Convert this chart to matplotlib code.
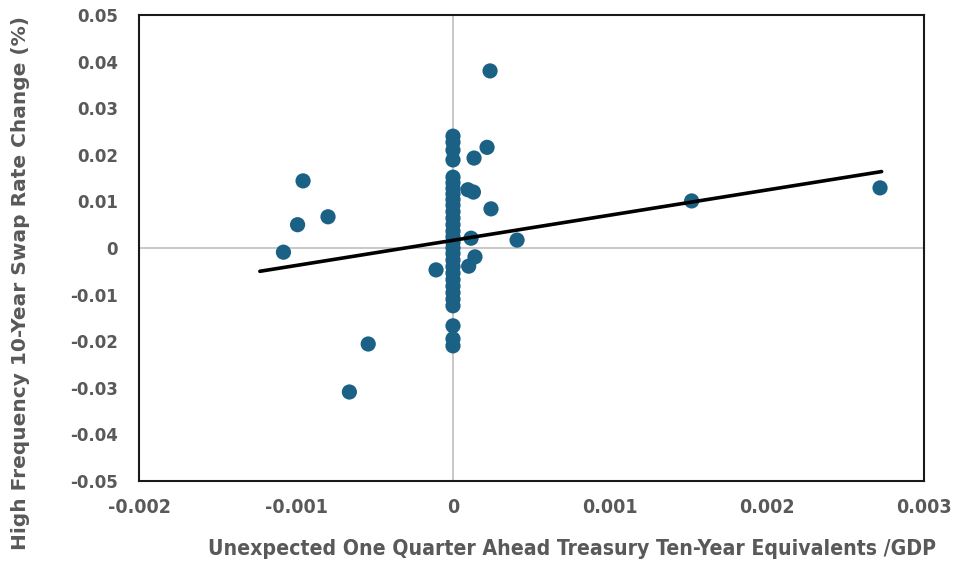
import numpy as np
import matplotlib
matplotlib.use("Agg")
import matplotlib.pyplot as plt

# Scatter data (x: Treasury ten-year equivalents / GDP, y: swap rate change %)
x_outliers = [0.000236, 0.000217, 0.000134, 0.000095, 0.000130, 0.000242, 0.000408,
              0.000115, 0.000140, 0.000100, -0.000108, -0.000955, -0.000990,
              -0.000796, -0.001080, -0.000540, -0.000660, 0.001520, 0.002720]
y_outliers = [0.0380, 0.0216, 0.0193, 0.0125, 0.0120, 0.0084, 0.0017,
              0.0021, -0.0019, -0.0039, -0.0047, 0.0144, 0.0050,
              0.0067, -0.0009, -0.0206, -0.0309, 0.0101, 0.0129]
y_zero_column = [0.0240, 0.0227, 0.0210, 0.0189, 0.0152, 0.0140, 0.0128, 0.0116,
                 0.0104, 0.0092, 0.0078, 0.0064, 0.0050, 0.0036, 0.0024, 0.0012,
                 0.0000, -0.0012, -0.0026, -0.0040, -0.0054, -0.0068, -0.0082,
                 -0.0096, -0.0110, -0.0124, -0.0167, -0.0195, -0.0210]

# Linear trendline
trend_x = [-0.00123, 0.00273]
trend_y = [-0.0050, 0.0164]

x_ticks = [-0.002, -0.001, 0, 0.001, 0.002, 0.003]
x_tick_labels = ["-0.002", "-0.001", "0", "0.001", "0.002", "0.003"]
y_ticks = [0.05, 0.04, 0.03, 0.02, 0.01, 0, -0.01, -0.02, -0.03, -0.04, -0.05]
y_tick_labels = ["0.05", "0.04", "0.03", "0.02", "0.01", "0", "-0.01", "-0.02",
                 "-0.03", "-0.04", "-0.05"]

x_all = np.array(x_outliers + [0.0] * len(y_zero_column))
y_all = np.array(y_outliers + y_zero_column)

fig = plt.figure(figsize=(9.56, 5.69), dpi=100)
ax = fig.add_axes([139/956, 1-481/569, (924-139)/956, (481-15)/569])

ax.axhline(0, color="#BFBFBF", lw=1.2, zorder=1)
ax.axvline(0, color="#BFBFBF", lw=1.2, zorder=1)

ax.scatter(x_all, y_all, s=120, color="#1B6185", edgecolors="none", zorder=3)

ax.plot(trend_x, trend_y, color="black", lw=2.6, zorder=4, solid_capstyle="round")

ax.set_xlim(-0.002, 0.003)
ax.set_ylim(-0.05, 0.05)
ax.set_xticks(x_ticks)
ax.set_xticklabels(x_tick_labels)
ax.set_yticks(y_ticks)
ax.set_yticklabels(y_tick_labels)
ax.tick_params(axis="x", length=0, pad=12)
ax.tick_params(axis="y", length=0, pad=15)
for lab in ax.get_xticklabels():
    lab.set_fontfamily("DejaVu Sans")
    lab.set_fontstretch("condensed")
    lab.set_fontweight("bold")
    lab.set_fontsize(14)
    lab.set_color("#595959")
for lab in ax.get_yticklabels():
    lab.set_fontfamily("DejaVu Sans")
    lab.set_fontweight("bold")
    lab.set_fontsize(12)
    lab.set_color("#595959")
for sp in ax.spines.values():
    sp.set_color("#1a1a1a")
    sp.set_linewidth(1.5)

fig.text(572/956, 1-549/569,
         "Unexpected One Quarter Ahead Treasury Ten-Year Equivalents /GDP",
         fontfamily="DejaVu Sans", fontstretch="condensed", fontweight="bold",
         fontsize=15.25, color="#595959", ha="center", va="center")
fig.text(21/956, 1-283/569, "High Frequency 10-Year Swap Rate Change (%)",
         fontfamily="DejaVu Sans", fontweight="bold", fontsize=14.5,
         color="#595959", ha="center", va="center", rotation=90)

fig.savefig("out.png", dpi=100)
